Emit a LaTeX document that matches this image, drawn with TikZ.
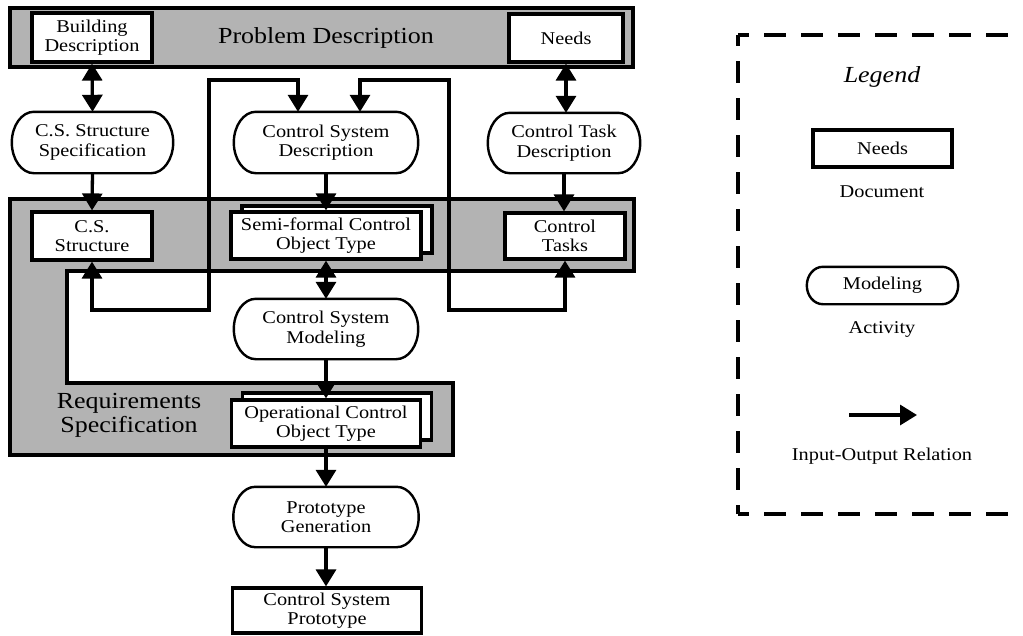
\documentclass[tikz,border=0pt]{standalone}
\usepackage{fontspec}
\setmainfont{Liberation Serif}[FakeStretch=1.13]
\usetikzlibrary{arrows.meta,calc}
\definecolor{bandgray}{RGB}{179,179,179}
\newcommand{\txtsmall}{\fontsize{18pt}{19.5pt}\selectfont}
\newcommand{\txtbig}{\fontsize{23pt}{24pt}\selectfont}
% outline of an activity: flat top and bottom, quarter-ellipse ends
\newcommand{\actoutline}[2][20]{%
  \draw[actline] ($(#2.north west)+(#1,0)$) -- ($(#2.north east)+(-#1,0)$)
    .. controls ($(#2.north east)+(-0.45*#1,0)$) and ($(#2.east)!0.55!(#2.north east)$) .. (#2.east)
    .. controls ($(#2.east)!0.55!(#2.south east)$) and ($(#2.south east)+(-0.45*#1,0)$) .. ($(#2.south east)+(-#1,0)$)
    -- ($(#2.south west)+(#1,0)$)
    .. controls ($(#2.south west)+(0.45*#1,0)$) and ($(#2.west)!0.55!(#2.south west)$) .. (#2.west)
    .. controls ($(#2.west)!0.55!(#2.north west)$) and ($(#2.north west)+(0.45*#1,0)$) .. ($(#2.north west)+(#1,0)$)
    -- cycle;}

\begin{document}
\begin{tikzpicture}[x=1pt,y=-1pt,
  every node/.style={inner sep=0pt, align=center, font=\txtsmall},
  docbox/.style={draw, line width=3.2pt, fill=white},
  actline/.style={line width=2.4pt, fill=white, line join=round},
  conn/.style={line width=3.3pt, -{Triangle[length=17pt,width=20pt]}},
  biconn/.style={line width=3.3pt, {Triangle[length=17pt,width=20pt]}-{Triangle[length=17pt,width=20pt]}},
  legdash/.style={line width=3.2pt, dash pattern=on 22pt off 15pt, dash phase=11pt},
  bandbox/.style={draw, line width=3.3pt, fill=bandgray}
]
\fill[white] (0,0) rectangle (1023,635);
\useasboundingbox (0,0) rectangle (1023,635);

% ---------- Problem description band ----------
\node[bandbox, minimum width=623pt, minimum height=59pt] (probband) at (321.5,37.5) {};
\node[font=\txtbig, anchor=base] (problabel) at (326,43) {Problem Description};
\node[docbox, minimum width=120pt, minimum height=49pt] (building) at (92,37.5) {Building\\Description};
\node[docbox, minimum width=114pt, minimum height=48pt] (needs) at (566,38) {Needs};

% ---------- Requirements specification region ----------
\filldraw[line width=3.3pt, fill=bandgray] (10,199) -- (634,199) -- (634,271) -- (67,271)
  -- (67,383) -- (453,383) -- (453,455) -- (10,455) -- cycle;
\node[font=\txtbig] (reqlabel) at (129,415) {Requirements\\Specification};

\node[docbox, minimum width=120pt, minimum height=48pt] (csstruct) at (92,236) {C.S.\\Structure};
\node[docbox, minimum width=190pt, minimum height=47pt] (semiback) at (337,229.5) {};
\node[docbox, minimum width=190pt, minimum height=47pt] (semi) at (326,235.5) {Semi-formal Control\\Object Type};
\node[docbox, minimum width=120pt, minimum height=46pt] (ctasks) at (565,236) {Control\\Tasks};

\node[docbox, minimum width=189pt, minimum height=47pt] (operback) at (337,416.5) {};
\node[docbox, minimum width=189pt, minimum height=47pt] (oper) at (326,423.5) {Operational Control\\Object Type};

% ---------- Activities ----------
\node[minimum width=161pt, minimum height=61pt] (csspec) at (92.5,142.5) {};
\actoutline[22]{csspec}
\node at (csspec) {C.S. Structure\\Specification};

\node[minimum width=184pt, minimum height=61pt] (csdesc) at (326,142.5) {};
\actoutline[22]{csdesc}
\node at (csdesc) {Control System\\Description};

\node[minimum width=152pt, minimum height=60pt] (ctdesc) at (564,143) {};
\actoutline[22]{ctdesc}
\node at (ctdesc) {Control Task\\Description};

\node[minimum width=184pt, minimum height=60pt] (csmodel) at (326,329) {};
\actoutline[22]{csmodel}
\node at (csmodel) {Control System\\Modeling};

\node[minimum width=185pt, minimum height=60pt] (protogen) at (326,517) {};
\actoutline[22]{protogen}
\node at (protogen) {Prototype\\Generation};

\node[docbox, minimum width=189pt, minimum height=45pt] (proto) at (327,610.5) {Control System\\Prototype};

% ---------- Input-output relations ----------
\draw[biconn] (building.south) -- (csspec.north);
\draw[biconn] (needs.south) -- (needs.south |- ctdesc.north);
\draw[conn] (csspec.south) -- (csstruct.north);
\draw[conn] (csdesc.south) -- (semi.north);
\draw[conn] (ctdesc.south) -- (ctdesc.south |- ctasks.north);
\draw[biconn] (semi.south) -- (csmodel.north);
\draw[conn] (csmodel.south) -- (oper.north);
\draw[conn] (oper.south) -- (protogen.north);
\draw[conn] (protogen.south) -- (protogen.south |- proto.north);

\coordinate (lfTop) at (209,80);
\coordinate (lfBot) at (209,310);
\coordinate (rtTop) at (449,80);
\coordinate (rtBot) at (449,310);
\draw[biconn] ($(csdesc.north)+(-28,0)$) |- (lfTop) -- (lfBot) -| (csstruct.south);
\draw[biconn] ($(csdesc.north)+(34,0)$) |- (rtTop) -- (rtBot) -| (ctasks.south);

% ---------- Legend ----------
\draw[legdash] (738,35) -- (1030,35);
\draw[legdash] (738,35) -- (738,514);
\draw[legdash] (738,514) -- (1030,514);
\node[font=\txtbig\itshape, anchor=base] (legtitle) at (882,82) {Legend};
\node[docbox, minimum width=139pt, minimum height=37pt] (legdoc) at (882.5,148.5) {Needs};
\node[anchor=base] (legdoclabel) at (882,197) {Document};
\node[minimum width=151pt, minimum height=37pt] (legact) at (882.5,285.5) {};
\actoutline[16]{legact}
\node at (legact) {Modeling};
\node[anchor=base] (legactlabel) at (882,333) {Activity};
\coordinate (ioA) at (849,415);
\coordinate (ioB) at (917,415);
\draw[conn] (ioA) -- (ioB);
\node[anchor=base] (legiolabel) at (882,460) {Input-Output Relation};
\end{tikzpicture}
\end{document}
